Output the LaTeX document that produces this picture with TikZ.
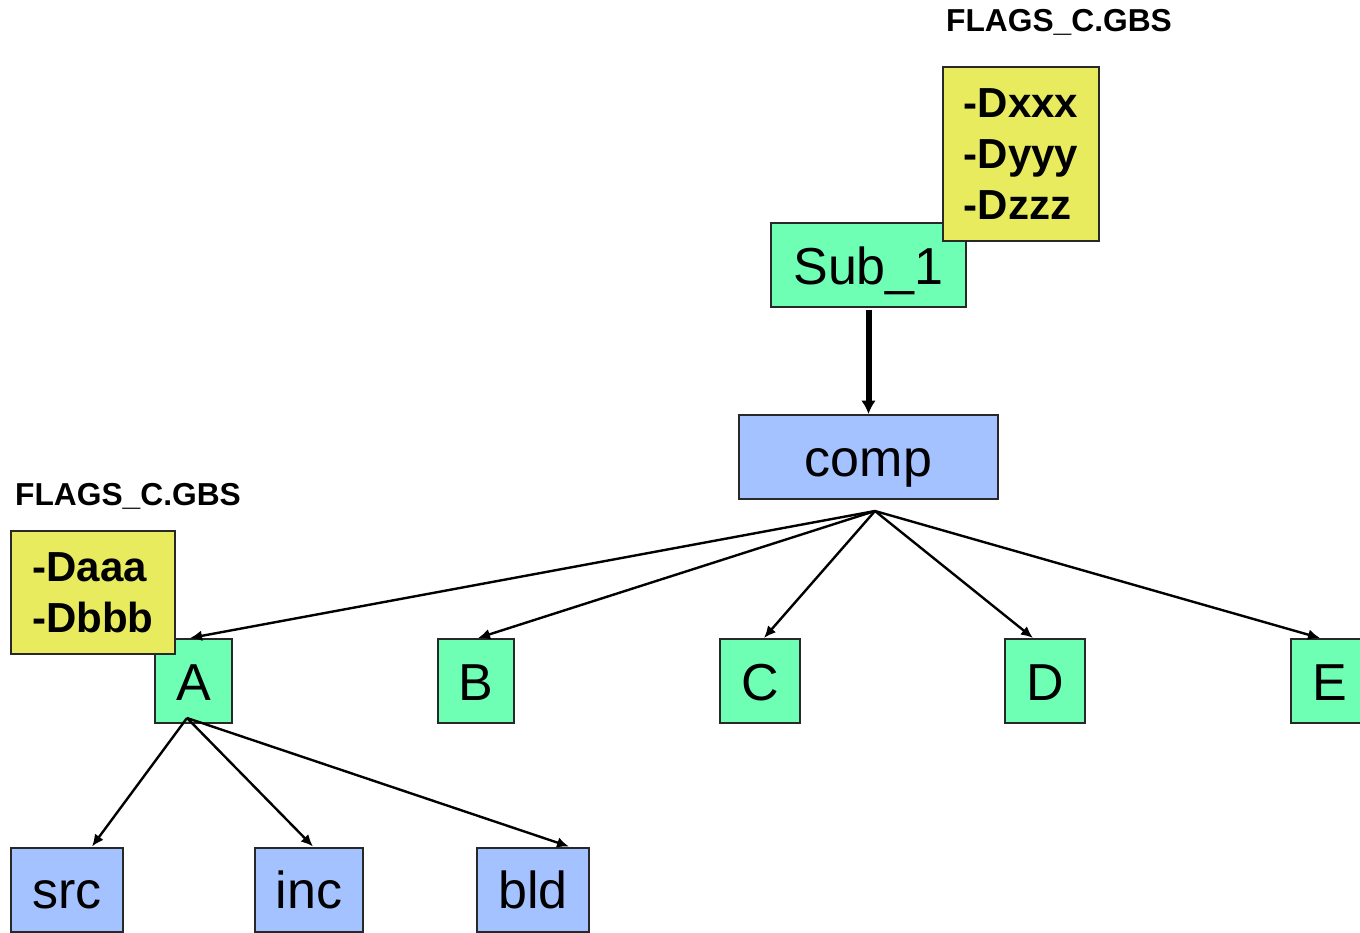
\documentclass[tikz,border=0pt]{standalone}
\usepackage{fontspec}
\setmainfont{Liberation Sans}
\usetikzlibrary{arrows.meta,calc}
\definecolor{boxgreen}{RGB}{110,255,180}
\definecolor{boxblue}{RGB}{164,194,255}
\definecolor{boxyellow}{RGB}{232,235,94}
\definecolor{edgegray}{RGB}{40,40,40}
\tikzset{
  x=0.75pt, y=-0.75pt,
  boxbase/.style={draw=edgegray, line width=1.5pt, inner sep=0pt, rectangle},
  dirbox/.style={boxbase, fill=boxblue, text height=28.5pt, text depth=0pt, font=\fontsize{39}{45}\selectfont},
  compbox/.style={boxbase, fill=boxgreen, text height=28.5pt, text depth=0pt, font=\fontsize{39}{45}\selectfont},
  flagbox/.style={boxbase, fill=boxyellow, align=left, font=\fontsize{31.5}{38.25}\selectfont\bfseries},
  flagtitle/.style={inner sep=0pt, font=\fontsize{23.8}{28}\selectfont\bfseries},
  thinarrow/.style={draw=black, line width=1.8pt, -{Latex[length=9pt,width=8pt]}},
  thickarrow/.style={draw=black, line width=4.5pt, -{Latex[length=10pt,width=11pt]}}
}
\begin{document}
\begin{tikzpicture}
\useasboundingbox (0,0) rectangle (1360,932);
\begin{scope}
\clip (0,0) rectangle (1360,932);
% top part
\node[compbox, minimum width=146.25pt, minimum height=63pt] (sub) at (868.5,265) {Sub\_1};
\node[flagbox, minimum width=117pt, minimum height=130.5pt] (fxyz) at (1021,154) {-Dxxx\\-Dyyy\\-Dzzz};
\node[flagtitle] (t1) at (1059,22) {FLAGS\_C.GBS};
\node[dirbox, minimum width=194.25pt, minimum height=63pt] (comp) at (868.5,457) {comp};
% second row
\node[compbox, minimum width=57.75pt, minimum height=63pt] (A) at (193.5,681) {A};
\node[compbox, minimum width=57pt, minimum height=63pt] (B) at (476,681) {B};
\node[compbox, minimum width=60pt, minimum height=63pt] (C) at (760,681) {C};
\node[compbox, minimum width=60pt, minimum height=63pt] (D) at (1045,681) {D};
\node[compbox, minimum width=58.5pt, minimum height=63pt] (E) at (1330,681) {E};
\node[flagbox, minimum width=123pt, minimum height=92.25pt] (fab) at (93,592.5) {-Daaa\\-Dbbb};
\node[flagtitle] (t2) at (128,496) {FLAGS\_C.GBS};
% third row
\node[dirbox, minimum width=84pt, minimum height=63pt] (src) at (67,889.5) {src};
\node[dirbox, minimum width=81pt, minimum height=63pt] (inc) at (309,889.5) {inc};
\node[dirbox, minimum width=84pt, minimum height=63pt] (bld) at (533,889.5) {bld};
% connectors
\coordinate (compfoot) at (875,511);
\coordinate (afoot) at (187,718);
\draw[thickarrow] ([yshift=-1.5pt]sub.south) -- (comp.north);
\draw[thinarrow] (compfoot) -- ([xshift=-2.6pt]A.north);
\draw[thinarrow] (compfoot) -- ([xshift=1.5pt]B.north);
\draw[thinarrow] (compfoot) -- ([xshift=3pt]C.north);
\draw[thinarrow] (compfoot) -- ([xshift=-9pt]D.north);
\draw[thinarrow] (compfoot) -- ([xshift=-7.5pt]E.north);
\draw[thinarrow] (afoot) -- ([xshift=18.75pt]src.north);
\draw[thinarrow] (afoot) -- ([xshift=3pt]inc.north);
\draw[thinarrow] (afoot) -- ([xshift=27pt]bld.north);
\end{scope}
\end{tikzpicture}
\end{document}
